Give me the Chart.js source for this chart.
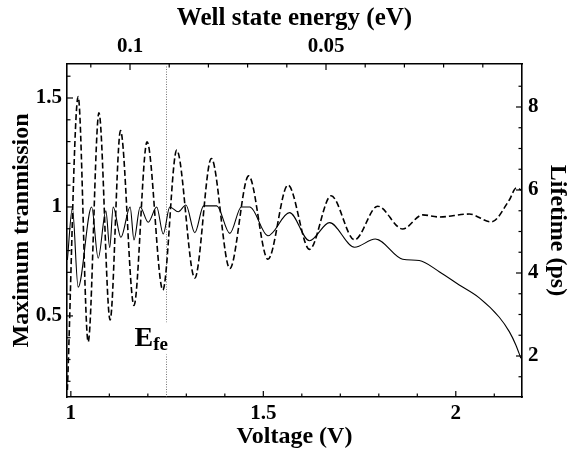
<!DOCTYPE html>
<html>
<head>
<meta charset="utf-8">
<script src="https://cdn.jsdelivr.net/npm/chart.js@4.4.0/dist/chart.umd.min.js"></script>
<style>
  body { margin: 0; background: #fff; }
  #wrap { width: 569px; height: 451px; }
</style>
</head>
<body>
<div id="wrap"><canvas id="chart" width="569" height="451"></canvas></div>
<script>
// maximum transmission vs bias voltage (left axis, solid)
const transVoltage = [0.991, 1.004, 1.019, 1.054, 1.071, 1.091, 1.101, 1.110, 1.130, 1.154,
  1.164, 1.180, 1.201, 1.223, 1.240, 1.257, 1.279, 1.299, 1.322, 1.345,
  1.379, 1.413, 1.443, 1.465, 1.512, 1.568, 1.620, 1.672, 1.737, 1.791,
  1.862, 1.905, 1.957, 2.009, 2.061, 2.113, 2.139, 2.156, 2.169];
const transmission = [0.757, 0.995, 0.632, 1.0, 0.765, 0.982, 0.814, 1.0, 0.861, 1.0,
  0.849, 1.0, 0.930, 1.0, 0.876, 1.0, 0.978, 1.009, 0.882, 1.005,
  1.005, 0.879, 1.0, 1.0, 0.868, 0.974, 0.845, 0.928, 0.815, 0.853,
  0.760, 0.754, 0.703, 0.642, 0.583, 0.494, 0.428, 0.367, 0.306];

// well state lifetime vs bias voltage (right axis, dashed)
const lifeVoltage = [0.991, 1.019, 1.045, 1.073, 1.102, 1.129, 1.164, 1.198, 1.239, 1.275,
  1.322, 1.365, 1.413, 1.462, 1.512, 1.564, 1.620, 1.676, 1.737, 1.797,
  1.862, 1.914, 1.957, 2.035, 2.092, 2.139, 2.157, 2.170];
const lifetime = [1.18, 8.25, 2.34, 7.86, 2.87, 7.43, 3.22, 7.16, 3.59, 6.96,
  3.88, 6.76, 4.11, 6.34, 4.33, 6.12, 4.57, 5.86, 4.80, 5.61,
  5.06, 5.40, 5.35, 5.42, 5.23, 5.76, 6.05, 6.00];

// labelled ticks
const voltageLabels = [1, 1.5, 2];
const transLabels = [0.5, 1, 1.5];
const lifetimeLabels = [2, 4, 6, 8];
const energyLabels = [0.1, 0.05];

// axis ranges; the well state energy falls linearly with voltage
const voltageMin = 0.99, voltageMax = 2.172;
const transMin = 0.128, transMax = 1.656;
const lifeMin = 1.012, lifeMax = 9.036;
const energyPerVolt = 0.0982;
const efeVoltage = 1.246;

const serif = "'Liberation Serif', 'Times New Roman', serif";
const tickFont = { family: serif, size: 21, weight: 'bold', lineHeight: 1 };
const titleFont = { family: serif, size: 24, weight: 'bold', lineHeight: 1 };

function stepTicks(from, to, step) {
  const out = [];
  for (let v = from; v <= to + 1e-9; v += step) out.push({ value: Math.round(v * 1000) / 1000 });
  return out;
}

function labelsOnly(list) {
  return v => {
    const hit = list.find(t => Math.abs(t - v) < 1e-6);
    return hit === undefined ? '' : String(hit);
  };
}

function axis(extra) {
  return Object.assign({
    type: 'linear',
    grid: { display: false, drawTicks: false },
    border: { display: true, color: '#000', width: 1.6 }
  }, extra);
}

// short tick marks pointing into the plot
const inwardTicks = {
  id: 'inwardTicks',
  afterDatasetsDraw(chart) {
    const { ctx, chartArea: a } = chart;
    ctx.save();
    ctx.strokeStyle = '#000';
    ctx.lineWidth = 1.2;
    Object.values(chart.scales).forEach(scale => {
      const pos = scale.options.position;
      scale.ticks.forEach(tick => {
        const len = tick.label ? 6 : 3.5;
        const p = scale.getPixelForValue(tick.value);
        ctx.beginPath();
        if (pos === 'bottom') { ctx.moveTo(p, a.bottom); ctx.lineTo(p, a.bottom - len); }
        else if (pos === 'top') { ctx.moveTo(p, a.top); ctx.lineTo(p, a.top + len); }
        else if (pos === 'left') { ctx.moveTo(a.left, p); ctx.lineTo(a.left + len, p); }
        else { ctx.moveTo(a.right, p); ctx.lineTo(a.right - len, p); }
        ctx.stroke();
      });
    });
    ctx.restore();
  }
};

// dotted marker at the emitter Fermi energy
const fermiMarker = {
  id: 'fermiMarker',
  beforeDatasetsDraw(chart) {
    const { ctx, chartArea: a, scales } = chart;
    const px = Math.round(scales.x.getPixelForValue(efeVoltage)) + 0.5;
    ctx.save();
    ctx.strokeStyle = '#777';
    ctx.lineWidth = 1;
    ctx.setLineDash([1, 1.5]);
    ctx.beginPath();
    ctx.moveTo(px, a.top);
    ctx.lineTo(px, a.bottom);
    ctx.stroke();
    ctx.setLineDash([]);

    const base = scales.y.getPixelForValue(0.36);
    const bigFont = 'bold 28px ' + serif;
    const subFont = 'bold 19px ' + serif;
    ctx.font = bigFont;
    const eW = ctx.measureText('E').width;
    ctx.font = subFont;
    const sW = ctx.measureText('fe').width;
    const left = px - 32;
    ctx.fillStyle = '#fff';
    ctx.fillRect(left - 1, base - 24, eW + sW + 3, 32);
    ctx.fillStyle = '#000';
    ctx.textBaseline = 'alphabetic';
    ctx.font = bigFont;
    ctx.fillText('E', left, base);
    ctx.font = subFont;
    ctx.fillText('fe', left + eW, base + 4);
    ctx.restore();
  }
};

new Chart(document.getElementById('chart'), {
  type: 'line',
  data: {
    datasets: [
      {
        label: 'Maximum tranmission',
        data: transVoltage.map((v, i) => ({ x: v, y: transmission[i] })),
        xAxisID: 'x',
        yAxisID: 'y',
        borderColor: '#000',
        borderWidth: 1.1,
        cubicInterpolationMode: 'monotone'
      },
      {
        label: 'Lifetime (ps)',
        data: lifeVoltage.map((v, i) => ({ x: v, y: lifetime[i] })),
        xAxisID: 'x',
        yAxisID: 'y2',
        borderColor: '#000',
        borderWidth: 1.6,
        borderDash: [6, 3],
        cubicInterpolationMode: 'monotone'
      }
    ]
  },
  options: {
    responsive: false,
    animation: false,
    devicePixelRatio: 1,
    events: [],
    layout: { padding: 0, autoPadding: false },
    elements: { point: { radius: 0 } },
    plugins: { legend: { display: false }, tooltip: { enabled: false } },
    scales: {
      x: axis({
        position: 'bottom',
        min: voltageMin,
        max: voltageMax,
        afterBuildTicks: s => { s.ticks = stepTicks(1.0, 2.1, 0.1); },
        afterFit: s => { s.height = 54; },
        ticks: { autoSkip: false, maxRotation: 0, padding: 6, color: '#000', font: tickFont,
          callback: labelsOnly(voltageLabels) },
        title: { display: true, text: 'Voltage (V)', color: '#000', font: titleFont,
          padding: { top: 0, bottom: 2 } }
      }),
      x2: axis({
        position: 'top',
        reverse: true,
        min: 0,
        max: energyPerVolt * (voltageMax - voltageMin),
        afterBuildTicks: s => { s.ticks = stepTicks(0.01, 0.11, 0.01); },
        afterFit: s => { s.height = 64; },
        ticks: { autoSkip: false, maxRotation: 0, padding: 7, color: '#000', font: tickFont,
          callback: labelsOnly(energyLabels) },
        title: { display: true, text: 'Well state energy (eV)', color: '#000',
          font: { family: serif, size: 25, weight: 'bold', lineHeight: 1 },
          padding: { top: 6, bottom: 0 } }
      }),
      y: axis({
        position: 'left',
        min: transMin,
        max: transMax,
        afterBuildTicks: s => { s.ticks = stepTicks(0.2, 1.6, 0.1); },
        afterFit: s => { s.width = 67; },
        ticks: { autoSkip: false, padding: 5, color: '#000', font: tickFont,
          callback: labelsOnly(transLabels) },
        title: { display: true, text: 'Maximum tranmission', color: '#000', font: titleFont,
          padding: { top: 10, bottom: 0 } }
      }),
      y2: axis({
        position: 'right',
        min: lifeMin,
        max: lifeMax,
        afterBuildTicks: s => { s.ticks = stepTicks(1.5, 8.5, 0.5); },
        afterFit: s => { s.width = 47; },
        ticks: { autoSkip: false, padding: 6, color: '#000', font: tickFont,
          callback: labelsOnly(lifetimeLabels) },
        title: { display: true, text: 'Lifetime (ps)', color: '#000',
          font: { family: serif, size: 24, weight: 'bold', lineHeight: 0.8 },
          padding: { top: 2, bottom: 0 } }
      })
    }
  },
  plugins: [fermiMarker, inwardTicks]
});
</script>
</body>
</html>
